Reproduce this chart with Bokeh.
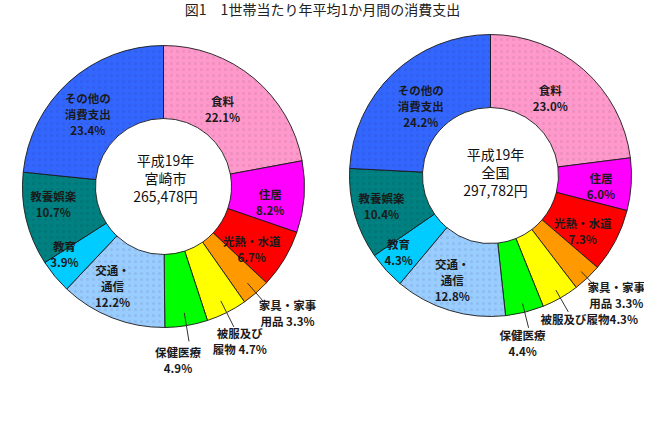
import math
from bokeh.plotting import figure
from bokeh.models import Range1d
from bokeh.embed import file_html
from bokeh.resources import INLINE
from bokeh.core.properties import value

# ---------------- data ----------------
title = "図1　1世帯当たり年平均1か月間の消費支出"
categories = ["食料", "住居", "光熱・水道", "家具・家事用品", "被服及び履物",
              "保健医療", "交通・通信", "教育", "教養娯楽", "その他の消費支出"]
miyazaki = [22.1, 8.2, 6.7, 3.3, 4.7, 4.9, 12.2, 3.9, 10.7, 23.4]
zenkoku = [23.0, 6.0, 7.3, 3.3, 4.3, 4.4, 12.8, 4.3, 10.4, 24.2]
colors = ["#FF99CC", "#FF00FF", "#FF0000", "#FF9900", "#FFFF00",
          "#00FF00", "#99CCFF", "#00CCFF", "#008080", "#3366FF"]
labels_miyazaki = [["食料", "{p}"], ["住居", "{p}"], ["光熱・水道", "{p}"],
                   ["家具・家事", "用品 {p}"], ["被服及び", "履物 {p}"], ["保健医療", "{p}"],
                   ["交通・", "通信", "{p}"], ["教育", "{p}"], ["教養娯楽", "{p}"],
                   ["その他の", "消費支出", "{p}"]]
labels_zenkoku = [["食料", "{p}"], ["住居", "{p}"], ["光熱・水道", "{p}"],
                  ["家具・家事", "用品 {p}"], ["被服及び履物{p}"], ["保健医療", "{p}"],
                  ["交通・", "通信", "{p}"], ["教育", "{p}"], ["教養娯楽", "{p}"],
                  ["その他の", "消費支出", "{p}"]]
center_miyazaki = ["平成19年", "宮崎市", "265,478円"]
center_zenkoku = ["平成19年", "全国", "297,782円"]

# ---------------- layout ----------------
W, H = 660, 427
M = 8
FONT = "Noto Sans CJK JP"
R_OUT, R_IN, R_LAB = 141, 68, 104
hatches = [".", " ", " ", " ", " ", " ", ".", " ", ".", "."]

charts = [
    dict(values=miyazaki, labels=labels_miyazaki, center=center_miyazaki,
         cx=171, cy=194, ctr_off=(2, -9), lead=(128, 157),
         place=[("in", -7.5, 2.4), ("in", 3, 7.7), ("in", -1, 9),
                ("out", 21, 8), ("out", 6, 14.5), ("out", -11, 18.5),
                ("in", -13, 3), ("in", -19, 1), ("in", -9, -6.6), ("in", -6, 4.6)]),
    dict(values=zenkoku, labels=labels_zenkoku, center=center_zenkoku,
         cx=498, cy=183, ctr_off=(5, -4), lead=(132, 157),
         place=[("in", -9, 0.5), ("in", 6.7, 3.5), ("in", 0, 7),
                ("out", 18, 5), ("out", 21, 7.6), ("out", -6, 14.7),
                ("in", -8, 5.5), ("in", -15, 7), ("in", -9, 2), ("in", 2, 6)]),
]

p = figure(width=W - 2 * M, height=H - 2 * M, output_backend="svg",
           toolbar_location=None, x_range=Range1d(M, W - M), y_range=Range1d(M, H - M),
           min_border=0)
p.axis.visible = False
p.grid.visible = False
p.outline_line_color = None
p.background_fill_color = "white"


def Y(yimg):
    return H - yimg


def polar(cx, cy, r, frac):
    a = 2 * math.pi * frac
    return cx + r * math.sin(a), cy - r * math.cos(a)


for ch in charts:
    vals = ch["values"]
    total = sum(vals)
    cum = [0.0]
    for v in vals:
        cum.append(cum[-1] + v / total)
    starts = [math.pi / 2 - 2 * math.pi * cum[i + 1] for i in range(len(vals))]
    ends = [math.pi / 2 - 2 * math.pi * cum[i] for i in range(len(vals))]
    p.annular_wedge(x=[ch["cx"]] * len(vals), y=[Y(ch["cy"])] * len(vals),
                    inner_radius=R_IN, outer_radius=R_OUT,
                    start_angle=starts, end_angle=ends, direction="anticlock",
                    fill_color=colors, line_color="#1a1a1a", line_width=0.9,
                    hatch_pattern=hatches, hatch_color="#000000", hatch_alpha=0.07,
                    hatch_scale=6, hatch_weight=0.5)

    # slice labels and leader lines
    tx, ty, tt = [], [], []
    lx0, ly0, lx1, ly1 = [], [], [], []
    for i, v in enumerate(vals):
        mid = (cum[i] + cum[i + 1]) / 2
        kind, dx, dy = ch["place"][i]
        if kind == "in":
            ax, ay = polar(ch["cx"], ch["cy"], R_LAB, mid)
        else:
            sx, sy = polar(ch["cx"], ch["cy"], ch["lead"][0], mid)
            ax, ay = polar(ch["cx"], ch["cy"], ch["lead"][1], mid)
            lx0.append(sx); ly0.append(Y(sy)); lx1.append(ax); ly1.append(Y(ay))
        lines = [s.format(p=f"{v:.1f}%") for s in ch["labels"][i]]
        n = len(lines)
        for k, s in enumerate(lines):
            tx.append(ax + dx)
            ty.append(Y(ay + dy + (k - (n - 1) / 2) * 16))
            tt.append(s)
    p.segment(x0=lx0, y0=ly0, x1=lx1, y1=ly1, line_color="#333333", line_width=1)
    p.text(x=tx, y=ty, text=tt, text_align="center", text_baseline="middle",
           text_font=value(FONT), text_font_style="bold", text_font_size="11.5px",
           text_color="#1a1a1a")

    # centre text
    cxs, cys = [], []
    n = len(ch["center"])
    for k in range(n):
        cxs.append(ch["cx"] + ch["ctr_off"][0])
        cys.append(Y(ch["cy"] + ch["ctr_off"][1] + (k - (n - 1) / 2) * 18))
    p.text(x=cxs, y=cys, text=ch["center"], text_align="center", text_baseline="middle",
           text_font=value(FONT), text_font_size="14px", text_color="#111111")

# title
p.text(x=[W / 2], y=[Y(16)], text=[title], text_align="center", text_baseline="middle",
       text_font=value(FONT), text_font_size="14px", text_color="#222222")

open("out.html", "w").write(file_html(p, INLINE))
